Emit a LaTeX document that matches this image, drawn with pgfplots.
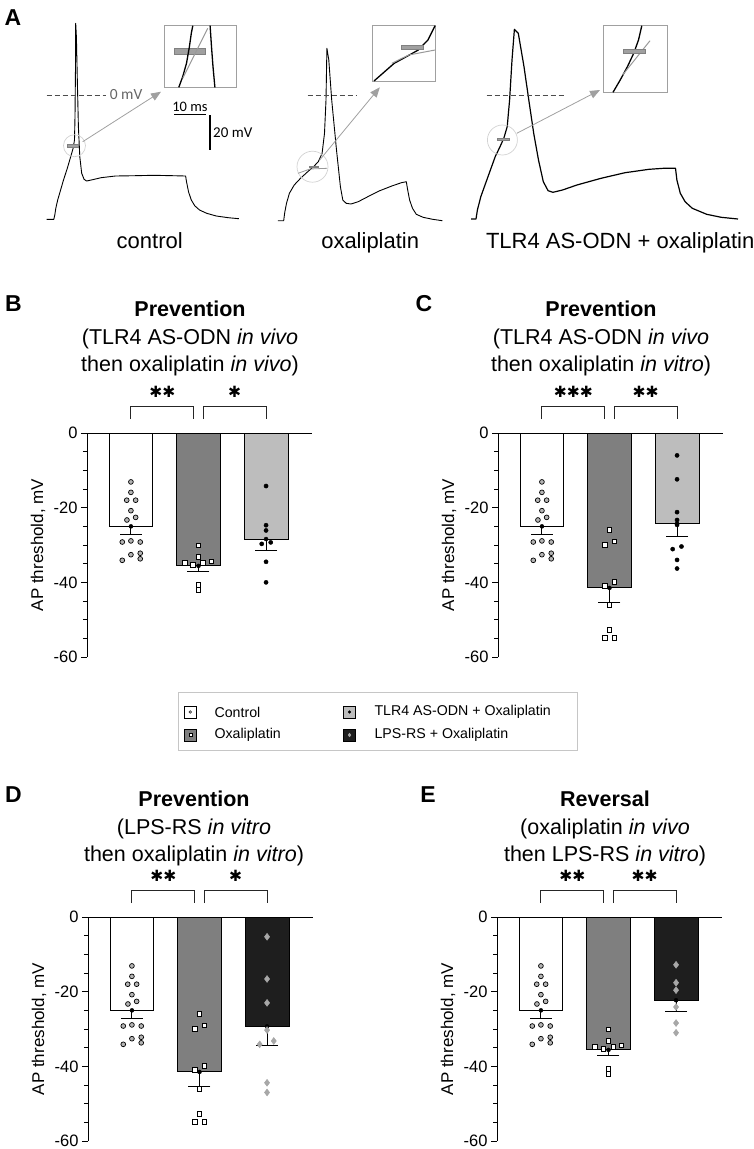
\documentclass[border=0pt]{standalone}
\usepackage{pgfplots}
\pgfplotsset{compat=1.18}
\usepackage{fontspec}
\setmainfont{Liberation Sans}
\newfontfamily\calibri{Carlito}
\newfontfamily\djv{DejaVu Sans}
\usetikzlibrary{arrows.meta}
\definecolor{oxal}{HTML}{7F7F7F}
\definecolor{tlr}{HTML}{BDBDBD}
\definecolor{lps}{HTML}{1E1E1E}
\definecolor{ctrlpt}{HTML}{B4B4B4}
\definecolor{lpspt}{HTML}{A8A8A8}
\definecolor{annot}{HTML}{A0A0A0}

\tikzset{sigstar/.style={anchor=center, inner sep=0pt, font=\djv\fontsize{15.5}{16}\selectfont}}
\pgfplotsset{
  barpanel/.style={
    anchor=north west,
    scale only axis, width=225pt, height=224pt,
    xmin=-0.65, xmax=2.68, ymin=-60, ymax=0,
    enlargelimits=false, clip=false,
    axis x line*=top, axis y line*=left,
    axis line style={line width=0.9pt, -},
    xtick=\empty,
    ytick={-60,-40,-20,0}, yticklabels={-60,-40,-20,0},
    minor ytick={-55,-50,-45,-35,-30,-25,-15,-10,-5},
    tick align=outside,
    major tick length=6pt, minor tick length=4pt,
    every tick/.style={black, line width=0.9pt},
    yticklabel style={font=\fontsize{16.5}{18}\selectfont},
    ylabel={AP threshold, mV},
    every axis y label/.style={at={(axis description cs:-0.218,0.5)}, rotate=90, anchor=center, font=\fontsize{17}{20}\selectfont},
  },
  barsty/.style={ybar, bar width=0.65, bar shift=0pt, draw=black, line width=0.9pt},
  errsty/.style={only marks, mark=none, forget plot,
    error bars/.cd, y dir=minus, y explicit,
    error bar style={line width=0.9pt, draw=black},
    error mark options={rotate=90, draw=black, line width=0.9pt, mark size=11pt}},
  ctrlmk/.style={only marks, mark=*, mark size=2.4pt, mark options={fill=ctrlpt, draw=black, line width=0.7pt}},
  oxmk/.style={only marks, mark=square*, mark size=2.3pt, mark options={fill=white, draw=black, line width=0.7pt}},
  tlrmk/.style={only marks, mark=*, mark size=2.1pt, mark options={fill=black, draw=black}},
  lpsmk/.style={only marks, mark=diamond*, mark size=3.4pt, mark options={fill=lpspt, draw=gray!70, line width=0.5pt}},
  brk/.style={black!85, line width=1pt, mark=none},
}
\newcommand{\ctrlpts}{(0,-13.1)(0,-15.9)(-0.062,-18.0)(0.07,-18.0)(0,-20.8)(-0.059,-23.3)(0.07,-22.6)(-0.128,-29.2)(0,-28.9)(0.138,-29.2)(-0.128,-34.1)(0,-32.6)(0.138,-32.2)(0.138,-33.7)}

\begin{document}
\begin{tikzpicture}
\useasboundingbox (0pt,0pt) rectangle (754pt,-1149pt);

% ---------------- Panel A ----------------
\begin{axis}[at={(0pt,0pt)}, anchor=north west, scale only axis, width=754pt, height=290pt,
  xmin=0, xmax=754, ymin=0, ymax=290, y dir=reverse, enlargelimits=false, hide axis, clip=false]
% traces
\addplot[black, line width=0.9pt, line join=round] coordinates {(46.6,219.3)(53.8,219.3)(54.8,215)(55.8,208.3)(57.7,200)(60.1,191.7)(63.5,180)(67.3,168.3)(70.7,156.7)(73.1,148.3)(74.5,140)(75,116.7)(75.5,66.7)(75.7,23.3)(76.4,36.7)(77.4,83.3)(78.4,126.7)(79.8,156.7)(81.7,173.3)(84.1,179.3)(86.5,181)(91.3,180)(101,177.7)(115.4,176)(134.6,175.7)(153.8,175.3)(173,175.7)(185.6,176)(186.5,181.7)(188.5,191.7)(191.3,200)(194.7,205.7)(199.5,210)(206.7,213.3)(216.3,216)(228.4,217.7)(238.9,218.7)};
\addplot[black, line width=0.9pt, line join=round] coordinates {(277.9,220.7)(283.7,220.7)(284.6,213.3)(286.5,203.3)(289.4,193.3)(294.2,185)(300.5,178.3)(307.7,171.7)(313.5,166.7)(318.3,161.7)(322.1,153.3)(324.5,133.3)(326,100)(326.9,48.3)(328.8,60)(331.7,100)(336.5,150)(340.4,186.7)(342.8,200)(346.2,203.3)(351,204)(358.2,201.7)(367.8,196.7)(379.8,190.7)(391.8,186)(401.4,182.7)(406.3,181.7)(407.7,190)(409.6,200)(412.5,208.3)(416.3,214.3)(423.1,217.3)(432.7,219.3)(442.3,220.7)};
\addplot[black, line width=1.2pt, line join=round] coordinates {(471.2,219)(476,219)(477.4,210)(480.8,196.7)(485.6,183.3)(490.4,170)(495.2,156.7)(500,146.7)(503.8,138.3)(507.2,126.7)(509.6,100)(512,60)(514.4,29.3)(518.3,33.3)(524,66.7)(528.8,100)(533.7,133.3)(538.5,160)(543.3,181.7)(548.1,190.7)(552.9,192.3)(562.5,190)(576.9,185)(601,178.3)(625,172.7)(649,169.3)(663.5,168.3)(675.5,168.3)(676.9,180)(680.3,193.3)(685.1,201.7)(692.3,208.3)(706.7,214.3)(721.2,217.3)(738,219)};
% 0 mV dashed lines
\addplot[black!70, line width=1pt, dash pattern=on 5pt off 3pt] coordinates {(46.6,95)(105.8,95)};
\addplot[black!70, line width=1pt, dash pattern=on 5pt off 3pt] coordinates {(307.7,95)(355.8,95)};
\addplot[black!70, line width=1pt, dash pattern=on 5pt off 3pt] coordinates {(486.5,95)(566.3,95)};
\node[anchor=west, text=black!60, font=\calibri\fontsize{15.5}{16}\selectfont, inner sep=0pt] at (axis cs:109.6,95) {0 mV};
% threshold circles
\draw[gray!35, line width=0.7pt] (axis cs:74.5,145.7) circle[radius=11pt];
\draw[gray!35, line width=0.7pt] (axis cs:312.5,166.7) circle[radius=15.5pt];
\draw[gray!35, line width=0.7pt] (axis cs:502.4,140) circle[radius=15pt];
% threshold markers
\addplot[fill=annot, draw=gray, line width=0.4pt] coordinates {(67.3,144.3)(77.9,144.3)(77.9,146.7)(67.3,146.7)} --cycle;
\addplot[fill=annot, draw=gray, line width=0.4pt] coordinates {(308.7,165.7)(318.3,165.7)(318.3,167.6)(308.7,167.6)} --cycle;
\addplot[fill=annot, draw=gray, line width=0.4pt] coordinates {(497.6,138.1)(508.7,138.1)(508.7,140.2)(497.6,140.2)} --cycle;
\addplot[gray!80, line width=0.8pt] coordinates {(298,173.3)(310,169)(327,168.3)};
% arrows
\addplot[annot, line width=0.8pt, -{Triangle[width=8pt,length=10pt]}] coordinates {(82.7,141.7)(161,91.7)};
\addplot[annot, line width=0.8pt, -{Triangle[width=8pt,length=10pt]}] coordinates {(319.7,160)(379.8,87.3)};
\addplot[annot, line width=0.8pt, -{Triangle[width=8pt,length=10pt]}] coordinates {(516.8,133.3)(600,90)};
% insets
\addplot[annot, line width=0.9pt] coordinates {(164.4,25.7)(236.5,25.7)(236.5,87.3)(164.4,87.3)} --cycle;
\addplot[fill=annot, draw=gray, line width=0.5pt] coordinates {(174,48.3)(205.3,48.3)(205.3,54)(174,54)} --cycle;
\addplot[black, line width=1.3pt] coordinates {(178.8,87.3)(182.7,76.7)(186.5,63.3)(189.4,46.7)(191.3,33.3)(192.8,25.7)};
\addplot[black, line width=1.3pt] coordinates {(214.9,87.3)(213,66.7)(211.5,46.7)(210.1,25.7)};
\addplot[gray!80, line width=1pt] coordinates {(182.7,78.3)(207.7,28.3)};
\addplot[annot, line width=0.9pt] coordinates {(372.6,25.7)(435.1,25.7)(435.1,81)(372.6,81)} --cycle;
\addplot[black, line width=1.3pt] coordinates {(374,81)(384.6,71.7)(394.2,63.3)(406.3,56.7)(418.3,50)(427.9,40)(435.1,25.7)};
\addplot[gray!80, line width=1pt] coordinates {(391.8,63.3)(408.7,55)(435.1,50)};
\addplot[fill=annot, draw=gray, line width=0.5pt] coordinates {(401.4,45)(423.1,45)(423.1,49.3)(401.4,49.3)} --cycle;
\addplot[annot, line width=0.9pt] coordinates {(603.4,25.7)(667.3,25.7)(667.3,92.3)(603.4,92.3)} --cycle;
\addplot[black, line width=1.3pt] coordinates {(613,92.3)(620.2,80)(627.4,66.7)(633.7,53.3)(638.5,40)(641.8,25.7)};
\addplot[gray!80, line width=1pt] coordinates {(622.6,75)(650,40.7)};
\addplot[fill=annot, draw=gray, line width=0.5pt] coordinates {(623.6,49)(645.2,49)(645.2,53.3)(623.6,53.3)} --cycle;
% scale bars
\addplot[black, line width=1.3pt] coordinates {(174,114.7)(205.8,114.7)};
\addplot[black, line width=1.3pt] coordinates {(210.1,115)(210.1,150)};
\node[anchor=base, font=\calibri\fontsize{14.5}{16}\selectfont] at (axis cs:189.9,111) {10 ms};
\node[anchor=west, font=\calibri\fontsize{15}{16}\selectfont, inner sep=0pt] at (axis cs:213,133) {20 mV};
% labels
\node[anchor=base, font=\fontsize{22}{26}\selectfont] at (axis cs:149.7,248) {control};
\node[anchor=base, font=\fontsize{22}{26}\selectfont] at (axis cs:370.2,248) {oxaliplatin};
\node[anchor=base, font=\fontsize{22}{26}\selectfont] at (axis cs:620.2,248) {TLR4 AS-ODN + oxaliplatin};
\end{axis}

% panel letters and titles
\node[anchor=base, font=\fontsize{23}{26}\selectfont\bfseries] at (13pt,-25pt) {A};
\node[anchor=base, font=\fontsize{23}{26}\selectfont\bfseries] at (13.5pt,-311.7pt) {B};
\node[anchor=base, font=\fontsize{23}{26}\selectfont\bfseries] at (424pt,-311.7pt) {C};
\node[anchor=base, font=\fontsize{23}{26}\selectfont\bfseries] at (13.5pt,-802pt) {D};
\node[anchor=base, font=\fontsize{23}{26}\selectfont\bfseries] at (428pt,-802pt) {E};

\begin{scope}[every node/.style={anchor=base, font=\fontsize{21.5}{26}\selectfont}]
\node at (190pt,-316.5pt) {\bfseries Prevention};
\node at (190pt,-344pt) {(TLR4 AS-ODN \textit{in vivo}};
\node at (190pt,-371.5pt) {then oxaliplatin \textit{in vivo})};
\node at (601pt,-316.5pt) {\bfseries Prevention};
\node at (601pt,-344pt) {(TLR4 AS-ODN \textit{in vivo}};
\node at (601pt,-371.5pt) {then oxaliplatin \textit{in vitro})};
\node at (194pt,-806.5pt) {\bfseries Prevention};
\node at (194pt,-834pt) {(LPS-RS \textit{in vitro}};
\node at (194pt,-861.5pt) {then oxaliplatin \textit{in vitro})};
\node at (605pt,-806.5pt) {\bfseries Reversal};
\node at (605pt,-834pt) {(oxaliplatin \textit{in vivo}};
\node at (605pt,-861.5pt) {then LPS-RS \textit{in vitro})};
\end{scope}

% ---------------- Panel B ----------------
\begin{axis}[barpanel, at={(87pt,-433pt)}]
\addplot[barsty, fill=white] coordinates {(0,-25.0)};
\addplot[barsty, fill=oxal] coordinates {(1,-35.6)};
\addplot[barsty, fill=tlr] coordinates {(2,-28.4)};
\addplot[errsty] coordinates {(0,-25.0) -= (0,2.1) (1,-35.6) -= (0,1.5) (2,-28.4) -= (0,3.1)};
\addplot[ctrlmk] coordinates {\ctrlpts};
\addplot[oxmk] coordinates {(1,-30.1)(1,-33.2)(0.8,-34.7)(1.193,-34.4)(0.921,-35.3)(1.069,-34.8)(1,-40.6)(1,-42.0)};
\addplot[tlrmk] coordinates {(2,-14.2)(2,-24.7)(2,-26.1)(1.936,-29.7)(2.069,-29.3)(2,-34.5)(2,-40.0)};
\addplot[brk] coordinates {(0,3.75)(0,7)(0.93,7)(0.93,3.75)};
\addplot[brk] coordinates {(1.07,3.75)(1.07,7)(2,7)(2,3.75)};
\node[sigstar] at (axis cs:0.465,11) {✱✱};
\node[sigstar] at (axis cs:1.535,11) {✱};
\end{axis}

% ---------------- Panel C ----------------
\begin{axis}[barpanel, at={(498pt,-433pt)}]
\addplot[barsty, fill=white] coordinates {(0,-25.0)};
\addplot[barsty, fill=oxal] coordinates {(1,-41.5)};
\addplot[barsty, fill=tlr] coordinates {(2,-24.3)};
\addplot[errsty] coordinates {(0,-25.0) -= (0,2.1) (1,-41.5) -= (0,4.0) (2,-24.3) -= (0,3.3)};
\addplot[ctrlmk] coordinates {\ctrlpts};
\addplot[oxmk] coordinates {(1,-26.0)(0.93,-30.0)(1.07,-29.0)(0.93,-40.9)(1.07,-39.8)(1,-46.0)(1,-52.7)(0.93,-54.8)(1.07,-54.8)};
\addplot[tlrmk] coordinates {(2,-6.0)(2,-12.4)(2,-21.2)(2,-23.3)(2,-24.6)(1.935,-31.1)(2.065,-30.4)(2,-34.0)(2,-36.3)};
\addplot[brk] coordinates {(0,3.75)(0,7)(0.93,7)(0.93,3.75)};
\addplot[brk] coordinates {(1.07,3.75)(1.07,7)(2,7)(2,3.75)};
\node[sigstar] at (axis cs:0.465,11) {✱✱✱};
\node[sigstar] at (axis cs:1.535,11) {✱✱};
\end{axis}

% ---------------- Legend ----------------
\begin{axis}[at={(178pt,-692pt)}, anchor=north west, scale only axis, width=399pt, height=58pt,
  xmin=178, xmax=577, ymin=692, ymax=750, y dir=reverse, enlargelimits=false,
  xtick=\empty, ytick=\empty, axis line style={gray!45, line width=0.7pt}, clip=false]
\addplot[only marks, mark=square*, mark size=6.2pt, mark options={fill=white, draw=black, line width=0.6pt}] coordinates {(190.3,712)};
\addplot[only marks, mark=*, mark size=1.4pt, mark options={fill=ctrlpt, draw=black, line width=0.4pt}] coordinates {(190.3,712)};
\addplot[only marks, mark=square*, mark size=6.2pt, mark options={fill=oxal, draw=black, line width=0.6pt}] coordinates {(190.3,735)};
\addplot[only marks, mark=square*, mark size=1.5pt, mark options={fill=white, draw=black, line width=0.4pt}] coordinates {(190.3,735)};
\addplot[only marks, mark=square*, mark size=6.2pt, mark options={fill=tlr, draw=black, line width=0.6pt}] coordinates {(349.5,712)};
\addplot[only marks, mark=*, mark size=1.4pt, mark options={fill=black, draw=black}] coordinates {(349.5,712)};
\addplot[only marks, mark=square*, mark size=6.2pt, mark options={fill=lps, draw=black, line width=0.6pt}] coordinates {(349.5,735)};
\addplot[only marks, mark=diamond*, mark size=1.9pt, mark options={fill=lpspt, draw=lpspt}] coordinates {(349.5,735)};
\node[anchor=west, font=\fontsize{14.2}{16}\selectfont] at (axis cs:211,712) {Control};
\node[anchor=west, font=\fontsize{14.2}{16}\selectfont] at (axis cs:211,735) {Oxaliplatin};
\node[anchor=west, font=\fontsize{14.2}{16}\selectfont] at (axis cs:371,712) {TLR4 AS-ODN + Oxaliplatin};
\node[anchor=west, font=\fontsize{14.2}{16}\selectfont] at (axis cs:371,735) {LPS-RS + Oxaliplatin};
\end{axis}

% ---------------- Panel D ----------------
\begin{axis}[barpanel, at={(88pt,-917pt)}]
\addplot[barsty, fill=white] coordinates {(0,-25.0)};
\addplot[barsty, fill=oxal] coordinates {(1,-41.5)};
\addplot[barsty, fill=lps] coordinates {(2,-29.3)};
\addplot[errsty] coordinates {(0,-25.0) -= (0,2.1) (1,-41.5) -= (0,4.0) (2,-29.3) -= (0,5.0)};
\addplot[ctrlmk] coordinates {\ctrlpts};
\addplot[oxmk] coordinates {(1,-26.0)(0.93,-30.0)(1.07,-29.0)(0.93,-40.9)(1.07,-39.8)(1,-46.0)(1,-52.7)(0.93,-54.8)(1.07,-54.8)};
\addplot[lpsmk] coordinates {(2,-5.3)(2,-16.6)(2,-23.0)(2,-30.3)(1.891,-34.1)(2.099,-33.2)(2,-44.4)(2,-47.0)};
\addplot[brk] coordinates {(0,3.75)(0,7)(0.93,7)(0.93,3.75)};
\addplot[brk] coordinates {(1.07,3.75)(1.07,7)(2,7)(2,3.75)};
\node[sigstar] at (axis cs:0.465,11) {✱✱};
\node[sigstar] at (axis cs:1.535,11) {✱};
\end{axis}

% ---------------- Panel E ----------------
\begin{axis}[barpanel, at={(497pt,-917pt)}]
\addplot[barsty, fill=white] coordinates {(0,-25.0)};
\addplot[barsty, fill=oxal] coordinates {(1,-35.6)};
\addplot[barsty, fill=lps] coordinates {(2,-22.3)};
\addplot[errsty] coordinates {(0,-25.0) -= (0,2.1) (1,-35.6) -= (0,1.5) (2,-22.3) -= (0,2.9)};
\addplot[ctrlmk] coordinates {\ctrlpts};
\addplot[oxmk] coordinates {(1,-30.1)(1,-33.2)(0.8,-34.7)(1.193,-34.4)(0.921,-35.3)(1.069,-34.8)(1,-40.6)(1,-42.0)};
\addplot[lpsmk] coordinates {(2,-12.8)(2,-17.6)(2,-19.6)(2,-24.1)(2,-28.4)(2,-31.0)};
\addplot[brk] coordinates {(0,3.75)(0,7)(0.93,7)(0.93,3.75)};
\addplot[brk] coordinates {(1.07,3.75)(1.07,7)(2,7)(2,3.75)};
\node[sigstar] at (axis cs:0.465,11) {✱✱};
\node[sigstar] at (axis cs:1.535,11) {✱✱};
\end{axis}
\end{tikzpicture}
\end{document}
